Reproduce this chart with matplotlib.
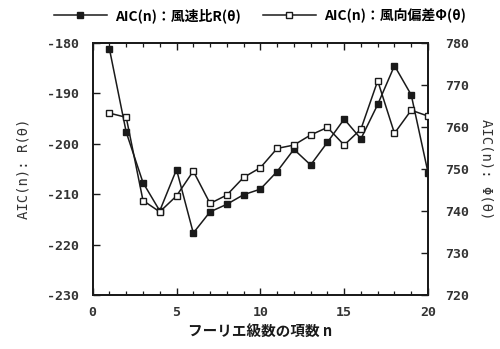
import matplotlib
matplotlib.use("Agg")
import matplotlib.pyplot as plt
from matplotlib.ticker import MultipleLocator
from matplotlib.lines import Line2D

plt.rcParams["axes.unicode_minus"] = False

n = list(range(1, 21))
aic_r = [-181.2, -197.7, -207.7, -213.3, -205.1, -217.7, -213.5, -212.0, -210.1, -209.0,
         -205.5, -201.1, -204.2, -199.7, -195.1, -199.0, -192.2, -184.5, -190.3, -205.7]
aic_phi = [763.3, 762.3, 742.5, 739.8, 743.6, 749.5, 741.8, 743.8, 748.0, 750.3,
           754.9, 755.7, 758.1, 759.9, 755.7, 759.5, 771.0, 758.5, 764.0, 762.6]
xticks = [0, 5, 10, 15, 20]
left_ticks = [-230, -220, -210, -200, -190, -180]
right_ticks = [720, 730, 740, 750, 760, 770, 780]
label_r = "AIC(n)：風速比R(θ)"
label_phi = "AIC(n)：風向偏差Φ(θ)"
xlabel = "フーリエ級数の項数 n"
ylabel_l = "AIC(n): R(θ)"
ylabel_r = "AIC(n): Φ(θ)"

ink = "#1a1a1a"
jp = ["Noto Sans CJK JP", "DejaVu Sans"]
mono = ["DejaVu Sans Mono", "Noto Sans CJK JP"]

fig = plt.figure(figsize=(5.0, 3.49), dpi=100)
ax = fig.add_axes([0.1854, 0.1547, 0.8560 - 0.1854, 0.8768 - 0.1547])
ax2 = ax.twinx()

ax.plot(n, aic_r, color=ink, lw=1.1, marker="s", ms=4.5, mfc=ink, mec=ink, zorder=3)
ax2.plot(n, aic_phi, color=ink, lw=1.1, marker="s", ms=5, mfc="white", mec=ink, mew=1.0, zorder=3)

ax.set_xlim(0, 20)
ax.set_ylim(-230, -180)
ax2.set_ylim(720, 780)
ax.set_xticks(xticks)
ax.xaxis.set_minor_locator(MultipleLocator(1))
ax.set_yticks(left_ticks)
ax2.set_yticks(right_ticks)

for a in (ax, ax2):
    for s in a.spines.values():
        s.set_color(ink)
        s.set_linewidth(1.3)

ax.tick_params(axis="x", which="major", direction="in", length=5, width=1.0, top=True, colors=ink, pad=8)
ax.tick_params(axis="x", which="minor", direction="in", length=3, width=0.9, top=True, colors=ink)
ax.tick_params(axis="y", which="major", direction="in", length=5, width=1.0, colors=ink, pad=10)
ax2.tick_params(axis="y", which="major", direction="in", length=5, width=1.0, colors=ink, pad=12)

for lab in ax.get_xticklabels() + ax.get_yticklabels() + ax2.get_yticklabels():
    lab.set_family(mono)
    lab.set_fontsize(9.5)
    lab.set_color("#333333")
    lab.set_fontweight("bold")

ax.set_xlabel(xlabel, family=jp, fontsize=10.5, fontweight="bold", color=ink, labelpad=3)
ax.set_ylabel(ylabel_l, family=mono, fontsize=10, color="#333333", labelpad=12)
ax2.set_ylabel(ylabel_r, family=mono, fontsize=10, color="#333333", rotation=-90, labelpad=18)

h1 = Line2D([], [], color=ink, lw=1.1, marker="s", ms=4.5, mfc=ink, mec=ink)
h2 = Line2D([], [], color=ink, lw=1.1, marker="s", ms=4.5, mfc="white", mec=ink)
fig.legend([h1, h2], [label_r, label_phi], loc="center", bbox_to_anchor=(0.52, 0.955),
           ncol=2, frameon=False, handlelength=3.8, columnspacing=1.6, handletextpad=0.6,
           prop={"family": jp, "size": 10, "weight": "bold"})

fig.savefig("out.png", dpi=100)
